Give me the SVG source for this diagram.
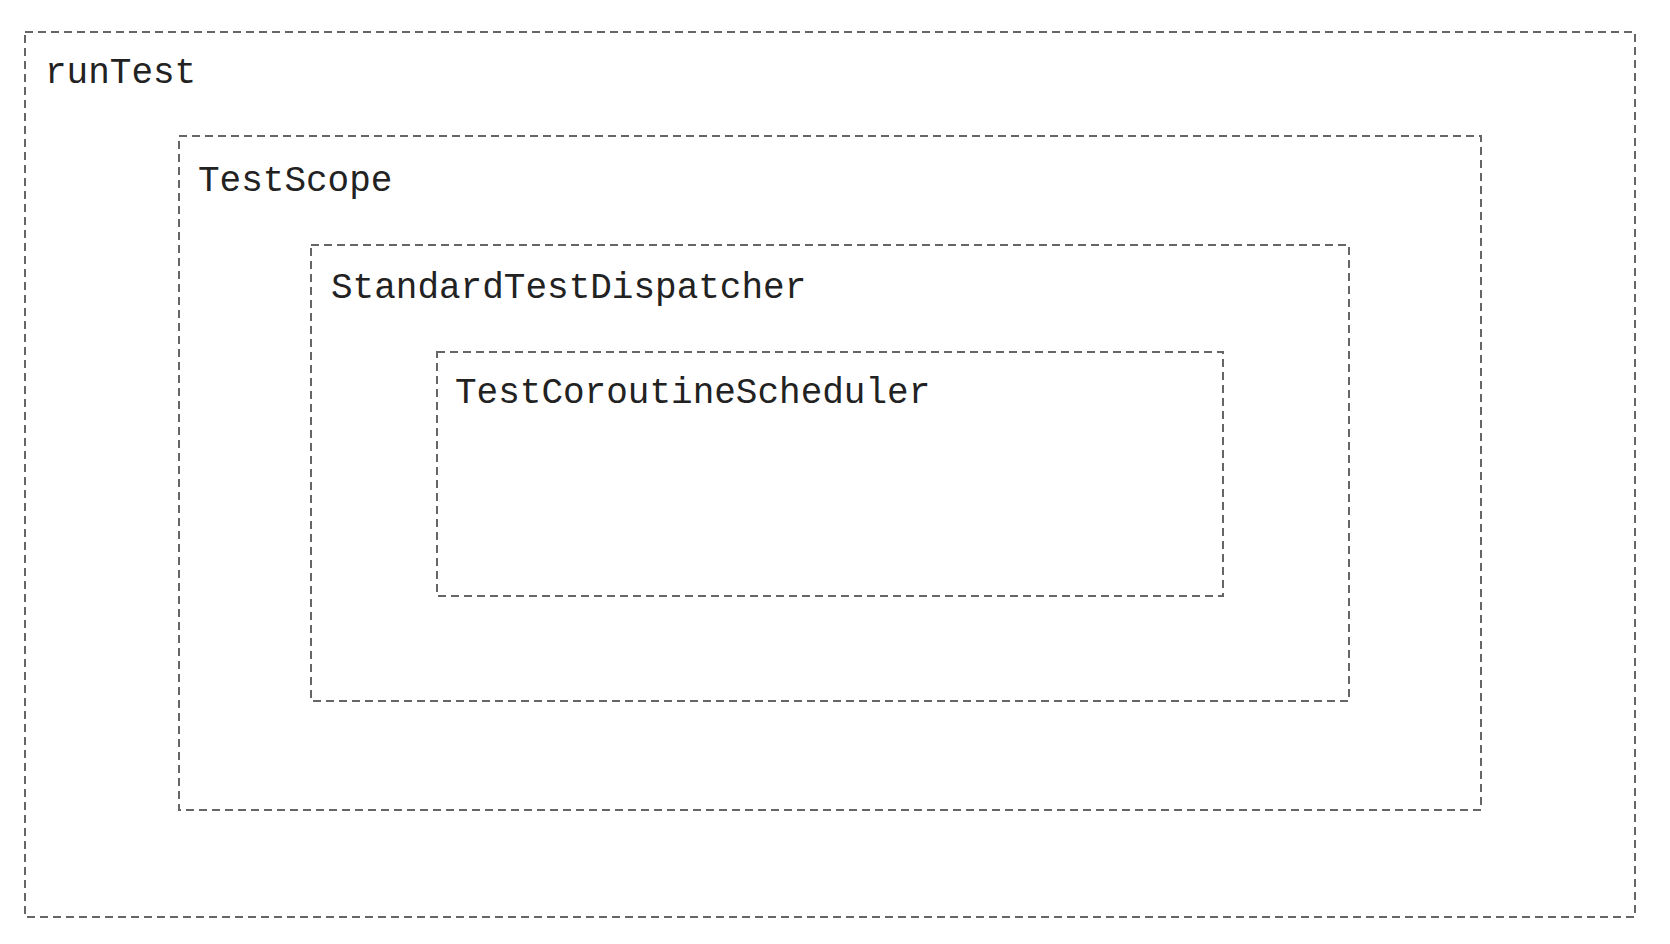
<svg xmlns="http://www.w3.org/2000/svg" width="1670" height="944" viewBox="0 0 1670 944">
<style>
.box{fill:none;stroke:#666;stroke-width:2;stroke-dasharray:8 5;}
.lbl{font-family:"Courier New","Nimbus Mono PS","Nimbus Mono L","FreeMono","Liberation Mono",monospace;font-size:36px;fill:#222;}
</style>
<rect width="1670" height="944" fill="#fff"/>
<g id="runTest">
<rect class="box" x="25" y="32" width="1610" height="885"/>
<text class="lbl" x="45" y="83">runTest</text>
</g>
<g id="TestScope">
<rect class="box" x="179" y="136" width="1302" height="674"/>
<text class="lbl" x="198" y="191">TestScope</text>
</g>
<g id="StandardTestDispatcher">
<rect class="box" x="311" y="245" width="1038" height="456"/>
<text class="lbl" x="331" y="298">StandardTestDispatcher</text>
</g>
<g id="TestCoroutineScheduler">
<rect class="box" x="437" y="352" width="786" height="244"/>
<text class="lbl" x="455" y="403">TestCoroutineScheduler</text>
</g>
<g id="connectors"></g>
</svg>
